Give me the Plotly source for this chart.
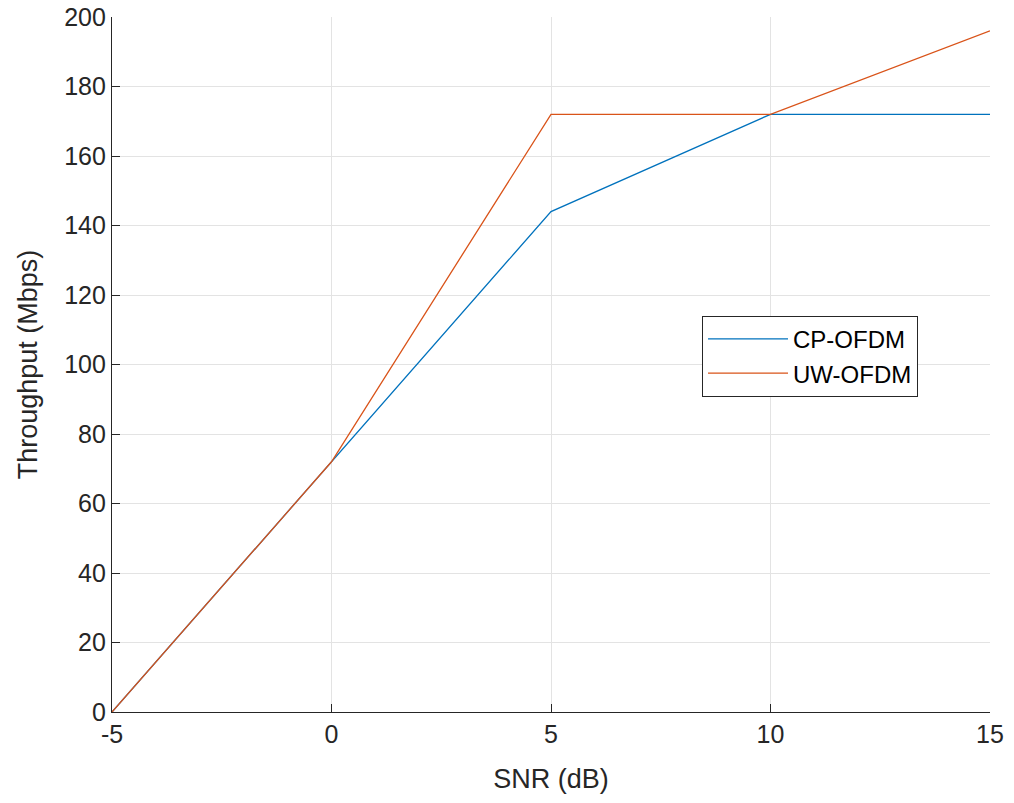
import plotly.graph_objects as go

snr = [-5, 0, 5, 10, 15]
cp_ofdm = [0, 72, 144, 172, 172]
uw_ofdm = [0, 72, 172, 172, 196]
x_ticks = [-5, 0, 5, 10, 15]
y_ticks = [0, 20, 40, 60, 80, 100, 120, 140, 160, 180, 200]

fig = go.Figure()
fig.add_trace(go.Scatter(x=snr, y=cp_ofdm, mode="lines", name="CP-OFDM",
                         line=dict(color="#0072BD", width=1.3)))
fig.add_trace(go.Scatter(x=snr, y=uw_ofdm, mode="lines", name="UW-OFDM",
                         line=dict(color="#D95319", width=1.3)))

font = "Liberation Sans, Arial, sans-serif"
axis_common = dict(
    showgrid=True, gridcolor="#e3e3e3", gridwidth=1,
    showline=True, linecolor="#262626", linewidth=1.2,
    ticks="inside", ticklen=8, tickcolor="#262626", tickwidth=1.2,
    zeroline=False, automargin=False, ticklabeloverflow="allow",
    tickfont=dict(family=font, size=25, color="#262626"),
)
fig.update_xaxes(range=[-5, 15], tickvals=x_ticks, ticktext=[str(v) for v in x_ticks],
                 title=dict(text="SNR (dB)", font=dict(family=font, size=27, color="#262626"), standoff=22),
                 **axis_common)
fig.update_yaxes(range=[0, 200], tickvals=y_ticks, ticktext=[str(v) for v in y_ticks],
                 title=dict(text="Throughput (Mbps)", font=dict(family=font, size=27, color="#262626"), standoff=18),
                 **axis_common)

fig.update_layout(
    width=1014, height=803,
    margin=dict(l=112, r=24, t=17, b=91),
    plot_bgcolor="white", paper_bgcolor="white",
    legend=dict(x=0.672, y=0.57, xanchor="left", yanchor="top",
                bgcolor="white", bordercolor="#262626", borderwidth=1,
                font=dict(family=font, size=24, color="#000000"),
                itemwidth=80, tracegroupgap=0),
    showlegend=True,
)
fig.write_html("out.html", config={"displayModeBar": False},
               post_script="document.body.style.margin='0px';")
